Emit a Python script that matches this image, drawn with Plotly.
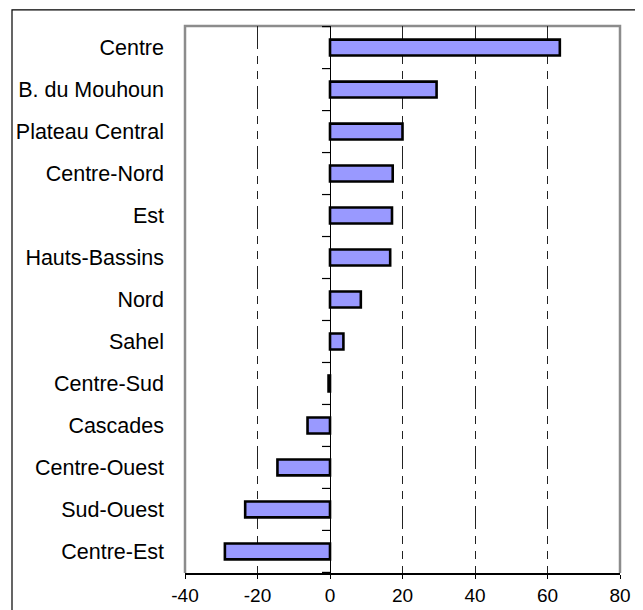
import plotly.graph_objects as go

regions = ["Centre", "B. du Mouhoun", "Plateau Central", "Centre-Nord", "Est",
           "Hauts-Bassins", "Nord", "Sahel", "Centre-Sud", "Cascades",
           "Centre-Ouest", "Sud-Ouest", "Centre-Est"]
values = [63.4, 29.4, 20.0, 17.3, 17.1, 16.6, 8.5, 3.7, -0.4, -6.2, -14.5, -23.4, -29.0]
x_ticks = [-40, -20, 0, 20, 40, 60, 80]

fig = go.Figure()
fig.add_trace(go.Bar(
    y=regions, x=values, orientation="h",
    marker=dict(color="#9999FF", line=dict(color="black", width=2.6)),
    width=0.38,
))

shapes = []
# Axis ticks on the zero line between categories
for i in range(len(regions) + 1):
    shapes.append(dict(type="line", xref="x", yref="y", xsizemode="pixel", xanchor=0,
                       x0=-8, x1=0, y0=i - 0.5, y1=i - 0.5,
                       line=dict(color="black", width=1.2)))
# plot-area border (grey), left/top/right
shapes.append(dict(type="path", xref="paper", yref="paper", path="M 0,0 L 0,1 L 1,1 L 1,0",
                   line=dict(color="#8c8c8c", width=2.5), layer="below"))
# outer chart border
shapes.append(dict(type="rect", xref="paper", yref="paper",
                   x0=-0.3977, x1=1.039, y0=-0.08, y1=1.0293,
                   line=dict(color="black", width=1.2)))

fig.update_layout(
    width=635, height=602,
    margin=dict(l=177, r=23, t=18, b=37),
    paper_bgcolor="white", plot_bgcolor="white",
    showlegend=False,
    shapes=shapes,
    font=dict(family="Liberation Sans, Arial, sans-serif", color="black"),
    xaxis=dict(range=[-40, 80], tickvals=x_ticks, ticktext=[str(v) for v in x_ticks],
               showgrid=True, gridcolor="#222", griddash="23px,7px,8px,7px,8px,7px",
               gridwidth=1, zeroline=True, zerolinecolor="black", zerolinewidth=1.2,
               showline=True, linecolor="black", linewidth=1.5,
               ticks="outside", ticklen=4, tickcolor="black",
               tickfont=dict(size=19), automargin=False, fixedrange=True),
    yaxis=dict(autorange="reversed", showgrid=False, zeroline=False, showline=False,
               ticks="", tickfont=dict(size=21.5), ticklabelstandoff=20,
               automargin=False),
)

fig.write_html("out.html")
